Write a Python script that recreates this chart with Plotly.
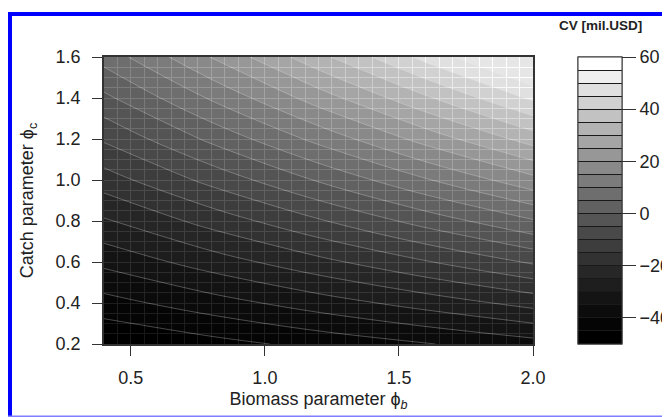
import plotly.graph_objects as go

# Biomass parameter (x) and catch parameter (y) grid
phi_b = [0.4, 0.8, 1.2, 1.6, 2.0]
phi_c = [0.2, 0.4, 0.6, 0.8, 1.0, 1.2, 1.4, 1.6]

# CV [mil.USD], rows follow phi_c, columns follow phi_b
cv_rows = [
    [-50.0, -46.8, -43.5, -40.3, -37.0],
    [-41.9, -37.2, -32.5, -27.9, -23.2],
    [-33.7, -27.6, -21.5, -15.4, -9.3],
    [-25.6, -18.1, -10.6, -3.0, 4.5],
    [-17.4, -8.5, 0.5, 9.5, 18.4],
    [-9.3, 1.1, 11.5, 21.9, 32.3],
    [-1.2, 10.6, 22.4, 34.2, 46.0],
    [7.0, 20.2, 33.5, 46.7, 60.0],
]

level_start = -45
level_end = 55
level_step = 5
cbar_min = -50
cbar_max = 60
cbar_ticks = [-40, -20, 0, 20, 40, 60]
band_edges = list(range(-45, 60, 5))

n_bands = 22
band_gray = [int(round(255 * (i / (n_bands - 1)) ** 1.3)) for i in range(n_bands)]

fill_opacity = 0.9
# contour fill colours (compensated for the semi-transparent fill over the dark raster grid)
fill_scale = []
for i, g in enumerate(band_gray):
    c = min(255, int(round(g / fill_opacity)))
    fill_scale.append([i / (n_bands - 1), f"rgb({c},{c},{c})"])

# stepped scale for the colour key
key_scale = []
for i, g in enumerate(band_gray):
    key_scale.append([i / n_bands, f"rgb({g},{g},{g})"])
    key_scale.append([(i + 1) / n_bands, f"rgb({g},{g},{g})"])

font_family = "Liberation Sans, Arial, sans-serif"
txt = "#222222"
dark = "#333333"

fig = go.Figure()
fig.add_trace(go.Contour(
    x=phi_b, y=phi_c, z=cv_rows,
    autocontour=False,
    contours=dict(start=level_start, end=level_end, size=level_step, coloring="fill"),
    colorscale=fill_scale,
    opacity=fill_opacity,
    line=dict(color="rgba(255,255,255,0.3)", width=1),
    showscale=False,
    hoverinfo="skip",
))

cb_common = dict(
    thickness=44, thicknessmode="pixels",
    len=1, lenmode="fraction", y=0.5, yanchor="middle", ypad=0,
    x=1.105, xanchor="left", xpad=0,
    outlinecolor=dark, outlinewidth=1,
)

# colour key: labels and outer ticks
fig.add_trace(go.Scatter(
    x=[None], y=[None], mode="markers", hoverinfo="skip", showlegend=False,
    marker=dict(
        color=[0], colorscale=key_scale, cmin=cbar_min, cmax=cbar_max, showscale=True,
        colorbar=dict(
            tickvals=cbar_ticks, ticks="outside", ticklen=14, tickcolor=dark, tickwidth=1,
            tickfont=dict(family=font_family, size=18, color=txt),
            **cb_common,
        ),
    ),
))
# colour key: band separators
fig.add_trace(go.Scatter(
    x=[None], y=[None], mode="markers", hoverinfo="skip", showlegend=False,
    marker=dict(
        color=[0], colorscale=key_scale, cmin=cbar_min, cmax=cbar_max, showscale=True,
        colorbar=dict(
            tickvals=band_edges, ticks="inside", ticklen=44, tickcolor="#1a1a1a", tickwidth=1,
            showticklabels=False,
            **cb_common,
        ),
    ),
))

axis_common = dict(
    showline=True, linecolor=dark, linewidth=1.5, mirror=True,
    ticks="outside", ticklen=10, tickcolor=dark, tickwidth=1.2,
    showgrid=True, gridcolor="white", gridwidth=1, zeroline=False,
    automargin=False,
    tickfont=dict(family=font_family, size=18, color=txt),
)

fig.update_layout(
    width=700, height=430,
    margin=dict(l=96, r=175, t=49, b=94),
    paper_bgcolor="white", plot_bgcolor="black",
    showlegend=False,
    xaxis=dict(
        range=[0.4, 2.0], tickvals=[0.5, 1.0, 1.5, 2.0], ticktext=["0.5", "1.0", "1.5", "2.0"],
        minor=dict(dtick=0.05, tick0=0.4, showgrid=True, gridcolor="white", gridwidth=1, ticks=""),
        title=dict(text="Biomass parameter ϕ<sub><i>b</i></sub>", standoff=5,
                   font=dict(family=font_family, size=18, color=txt)),
        ticklabelstandoff=7,
        **axis_common,
    ),
    yaxis=dict(
        range=[0.2, 1.6], tickvals=[0.2, 0.4, 0.6, 0.8, 1.0, 1.2, 1.4, 1.6],
        ticktext=["0.2", "0.4", "0.6", "0.8", "1.0", "1.2", "1.4", "1.6"],
        minor=dict(dtick=0.05, tick0=0.2, showgrid=True, gridcolor="white", gridwidth=1, ticks=""),
        title=dict(text="Catch parameter ϕ<sub>c</sub>", standoff=17,
                   font=dict(family=font_family, size=18, color=txt)),
        ticklabelstandoff=8,
        **axis_common,
    ),
    annotations=[dict(
        text="<b>CV [mil.USD]</b>", xref="paper", yref="paper",
        x=1.158, y=1.111, xanchor="center", yanchor="middle", showarrow=False,
        font=dict(family=font_family, size=13.5, color=txt),
    )],
    shapes=[
        dict(type="line", xref="paper", yref="paper", x0=-0.2191, x1=-0.2191, y0=-0.30, y1=1.157,
             line=dict(color="#0000ff", width=4), layer="above"),
        dict(type="line", xref="paper", yref="paper", x0=-0.226, x1=1.40, y0=1.1498, y1=1.1498,
             line=dict(color="#0000ff", width=4), layer="above"),
        dict(type="line", xref="paper", yref="paper", x0=-0.226, x1=1.40, y0=-0.2526, y1=-0.2526,
             line=dict(color="#7f7fff", width=2), layer="above"),
    ],
)

fig.write_html("out.html")
